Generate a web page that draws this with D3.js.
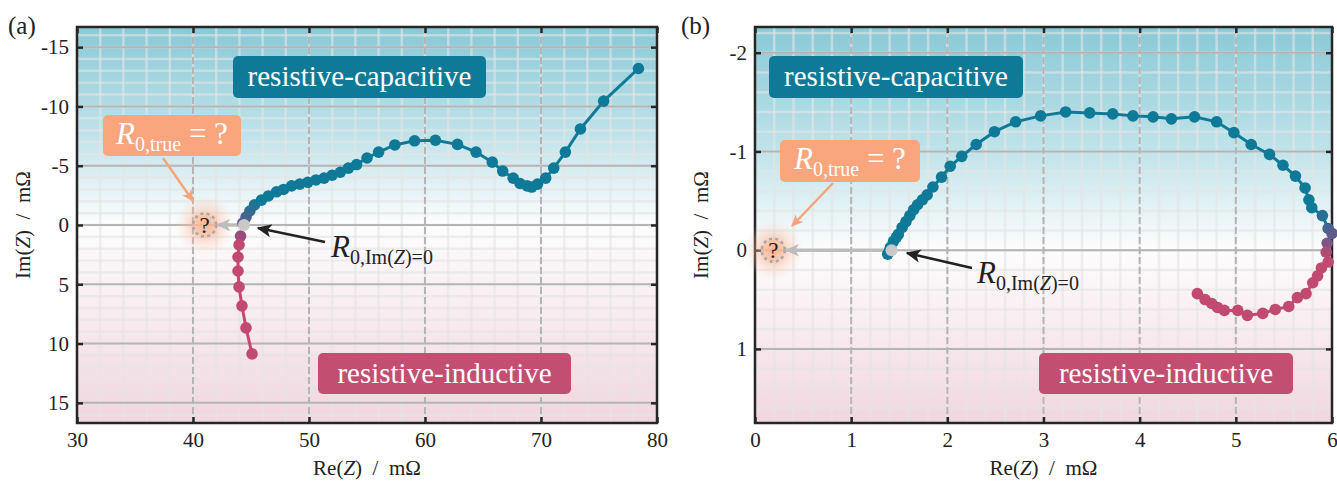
<!DOCTYPE html>
<html><head><meta charset="utf-8">
<script src="https://cdn.jsdelivr.net/npm/d3@7"></script>
<style>
html,body{margin:0;padding:0;background:#fff;}
svg text{font-family:"Liberation Serif","DejaVu Serif",serif;}
</style></head>
<body>
<svg id="chart" width="1337" height="482"></svg>
<script>
// ---------- DATA ----------
// Panel (a)
const aXTicks = [30, 40, 50, 60, 70, 80];
const aYTicks = [-15, -10, -5, 0, 5, 10, 15];
const aYTickLabels = ["-15", "-10", "-5", "0", "5", "10", "15"];
const aCapRe = [44.3, 44.57, 44.9, 45.3, 45.9, 46.5, 47.2, 47.8, 48.5, 49.2, 49.9, 50.6, 51.3, 52.0, 52.7, 53.4, 54.1, 55.0, 56.0, 57.4, 59.1, 60.9, 62.8, 64.4, 65.8, 66.7, 67.6, 68.2, 68.8, 69.2, 69.7, 70.4, 71.1, 72.1, 73.4, 75.4, 78.4];
const aCapIm = [-0.17, -0.67, -1.18, -1.7, -2.1, -2.45, -2.8, -3.0, -3.3, -3.45, -3.6, -3.8, -3.95, -4.2, -4.45, -4.8, -5.1, -5.65, -6.15, -6.75, -7.1, -7.15, -6.8, -6.15, -5.3, -4.55, -3.95, -3.5, -3.3, -3.2, -3.45, -3.95, -4.8, -6.15, -8.1, -10.45, -13.2];
const aIndRe = [44.1, 43.97, 43.88, 43.88, 43.97, 44.22, 44.57, 45.09];
const aIndIm = [0.93, 1.68, 2.7, 3.88, 5.22, 6.82, 8.68, 10.87];
const aR0Im0 = 44.4;   // R0 where Im(Z)=0
const aR0True = 41.0;  // unknown true R0 marker

// Panel (b)
const bXTicks = [0, 1, 2, 3, 4, 5, 6];
const bYTicks = [-2, -1, 0, 1];
const bYTickLabels = ["-2", "-1", "0", "1"];
const bCapRe = [1.38, 1.40, 1.41, 1.44, 1.47, 1.49, 1.53, 1.57, 1.61, 1.65, 1.69, 1.74, 1.79, 1.85, 1.94, 2.03, 2.15, 2.30, 2.49, 2.71, 2.97, 3.23, 3.48, 3.72, 3.93, 4.14, 4.33, 4.57, 4.80, 4.98, 5.16, 5.35, 5.49, 5.62, 5.72, 5.76, 5.79, 5.90, 5.96, 6.00];
const bCapIm = [0.04, 0.0, -0.03, -0.09, -0.13, -0.16, -0.23, -0.29, -0.35, -0.41, -0.46, -0.51, -0.56, -0.64, -0.74, -0.85, -0.95, -1.07, -1.20, -1.30, -1.36, -1.40, -1.39, -1.38, -1.36, -1.35, -1.33, -1.35, -1.30, -1.19, -1.07, -0.97, -0.86, -0.75, -0.63, -0.51, -0.43, -0.35, -0.22, -0.17];
const bIndRe = [5.95, 5.94, 5.96, 5.89, 5.85, 5.80, 5.73, 5.64, 5.55, 5.41, 5.28, 5.12, 5.02, 4.88, 4.81, 4.75, 4.68, 4.60];
const bIndIm = [-0.07, 0.02, 0.12, 0.18, 0.26, 0.33, 0.44, 0.48, 0.57, 0.60, 0.64, 0.66, 0.61, 0.61, 0.58, 0.54, 0.50, 0.44];
const bR0Im0 = 1.42;
const bR0True = 0.19;

const capLabel = "resistive-capacitive";
const indLabel = "resistive-inductive";

// ---------- STYLE ----------
const BLUE = "#0f7a98", RED = "#c24a70", PURPLE = "#5e5a8c";
const svg = d3.select("#chart");
const defs = svg.append("defs");

function marker(id, color, size) {
  defs.append("marker").attr("id", id).attr("viewBox", "0 0 10 10")
    .attr("refX", 9).attr("refY", 5).attr("markerWidth", size).attr("markerHeight", size)
    .attr("markerUnits", "userSpaceOnUse").attr("orient", "auto")
    .append("path").attr("d", "M0,0.5 L10,5 L0,9.5 L2.5,5 Z").attr("fill", color);
}
marker("arrBlack", "#222", 15);
marker("arrGray", "#bdbdbd", 14);
marker("arrOrange", "#f7a37c", 12);

const glow = defs.append("radialGradient").attr("id", "glow");
glow.append("stop").attr("offset", "0%").attr("stop-color", "#f79a6e").attr("stop-opacity", 0.85);
glow.append("stop").attr("offset", "45%").attr("stop-color", "#f9b08e").attr("stop-opacity", 0.45);
glow.append("stop").attr("offset", "100%").attr("stop-color", "#fcd2bd").attr("stop-opacity", 0);

const FS = 21; // tick/axis font size

function panel(cfg) {
  const x = d3.scaleLinear().domain(cfg.xDomain).range([cfg.left, cfg.right]);
  const y = d3.scaleLinear().domain(cfg.yDomain).range([cfg.top, cfg.bottom]);
  const g = svg.append("g");
  const gid = "bg" + cfg.id;
  const zf = (y(0) - cfg.top) / (cfg.bottom - cfg.top);
  const lg = defs.append("linearGradient").attr("id", gid).attr("x1", 0).attr("y1", 0).attr("x2", 0).attr("y2", 1);
  lg.append("stop").attr("offset", 0).attr("stop-color", "#89c9d6");
  lg.append("stop").attr("offset", zf * 0.55).attr("stop-color", "#c0e3ea");
  lg.append("stop").attr("offset", zf).attr("stop-color", "#fdfdfd");
  lg.append("stop").attr("offset", 1).attr("stop-color", "#f1d6df");
  g.append("rect").attr("x", cfg.left).attr("y", cfg.top)
    .attr("width", cfg.right - cfg.left).attr("height", cfg.bottom - cfg.top).attr("fill", `url(#${gid})`);

  // minor grid
  const xm = d3.range(cfg.xDomain[0], cfg.xDomain[1] + 1e-9, cfg.xMinor);
  const ym = d3.range(Math.ceil(cfg.yDomain[0] / cfg.yMinor) * cfg.yMinor, cfg.yDomain[1], cfg.yMinor);
  g.selectAll(".xm").data(xm).join("line").attr("x1", d => x(d)).attr("x2", d => x(d))
    .attr("y1", cfg.top).attr("y2", cfg.bottom).attr("stroke", "#e4e4e4").attr("stroke-opacity", 0.6).attr("stroke-width", 2.5);
  g.selectAll(".ym").data(ym).join("line").attr("y1", d => y(d)).attr("y2", d => y(d))
    .attr("x1", cfg.left).attr("x2", cfg.right).attr("stroke", "#e4e4e4").attr("stroke-opacity", 0.6).attr("stroke-width", 2.5);
  // major grid
  g.selectAll(".xM").data(cfg.xTicks).join("line").attr("x1", d => x(d)).attr("x2", d => x(d))
    .attr("y1", cfg.top).attr("y2", cfg.bottom).attr("stroke", "#b5b5b5").attr("stroke-width", 2)
    .attr("stroke-dasharray", "7,3");
  g.selectAll(".yM").data(cfg.yTicks).join("line").attr("y1", d => y(d)).attr("y2", d => y(d))
    .attr("x1", cfg.left).attr("x2", cfg.right).attr("stroke", "#b5b5b5").attr("stroke-width", 2);

  // axes with inward ticks
  const tk = 6;
  const axB = d3.axisBottom(x).tickValues(cfg.xTicks).tickSize(-tk).tickPadding(9).tickFormat(d3.format("d"));
  const axT = d3.axisTop(x).tickValues(cfg.xTicks).tickSize(-tk).tickFormat("");
  const axL = d3.axisLeft(y).tickValues(cfg.yTicks).tickSize(-tk).tickPadding(8).tickFormat((d, i) => cfg.yLabels[i]);
  const axR = d3.axisRight(y).tickValues(cfg.yTicks).tickSize(-tk).tickFormat("");
  [[axB, `translate(0,${cfg.bottom})`], [axT, `translate(0,${cfg.top})`], [axL, `translate(${cfg.left},0)`], [axR, `translate(${cfg.right},0)`]]
    .forEach(([ax, tr]) => {
      const a = g.append("g").attr("transform", tr).call(ax);
      a.select(".domain").remove();
      a.selectAll("line").attr("stroke", "#262626").attr("stroke-width", 2.5);
      a.selectAll("text").attr("font-size", FS).attr("fill", "#222")
        .style("font-family", '"Liberation Serif","DejaVu Serif",serif');
    });
  g.append("rect").attr("x", cfg.left).attr("y", cfg.top).attr("width", cfg.right - cfg.left)
    .attr("height", cfg.bottom - cfg.top).attr("fill", "none").attr("stroke", "#262626").attr("stroke-width", 2.5);

  // axis titles
  const xt = g.append("text").attr("x", (cfg.left + cfg.right) / 2).attr("y", cfg.bottom + 52)
    .attr("text-anchor", "middle").attr("font-size", FS).attr("fill", "#222");
  xt.append("tspan").text("Re(");
  xt.append("tspan").attr("font-style", "italic").text("Z");
  xt.append("tspan").text(")\u2002/\u2002mΩ");
  const yt = g.append("text").attr("transform", `translate(${cfg.left - 47},${(cfg.top + cfg.bottom) / 2}) rotate(-90)`)
    .attr("text-anchor", "middle").attr("font-size", FS).attr("fill", "#222");
  yt.append("tspan").text("Im(");
  yt.append("tspan").attr("font-style", "italic").text("Z");
  yt.append("tspan").text(")\u2002/\u2002mΩ");
  g.append("text").attr("x", cfg.tagX).attr("y", 34).attr("font-size", 25).attr("fill", "#222").text(cfg.tag);

  // region labels
  function box(x0, y0, x1, y1, color, label) {
    g.append("rect").attr("x", x0).attr("y", y0).attr("width", x1 - x0).attr("height", y1 - y0)
      .attr("rx", 5).attr("fill", color);
    g.append("text").attr("x", (x0 + x1) / 2).attr("y", (y0 + y1) / 2 + 9).attr("text-anchor", "middle")
      .attr("font-size", 29).attr("fill", "#fff").text(label);
  }
  box(cfg.capBox[0], cfg.capBox[1], cfg.capBox[2], cfg.capBox[3], "#0f7a98", capLabel);
  box(cfg.indBox[0], cfg.indBox[1], cfg.indBox[2], cfg.indBox[3], "#c24e72", indLabel);

  // R0,true box
  const ob = cfg.trueBox;
  g.append("rect").attr("x", ob[0]).attr("y", ob[1]).attr("width", ob[2] - ob[0]).attr("height", ob[3] - ob[1])
    .attr("rx", 5).attr("fill", "#f9a57e");
  const rt = g.append("text").attr("x", (ob[0] + ob[2]) / 2).attr("y", (ob[1] + ob[3]) / 2 + 8)
    .attr("text-anchor", "middle").attr("fill", "#fff").attr("font-size", 31);
  rt.append("tspan").attr("font-style", "italic").text("R");
  rt.append("tspan").attr("font-size", 20).attr("dy", 7).text("0,true");
  rt.append("tspan").attr("dy", -7).text(" = ?");
  g.append("line").attr("x1", cfg.orangeArrow[0]).attr("y1", cfg.orangeArrow[1])
    .attr("x2", cfg.orangeArrow[2]).attr("y2", cfg.orangeArrow[3])
    .attr("stroke", "#f7a37c").attr("stroke-width", 2.4).attr("marker-end", "url(#arrOrange)");

  // "?" marker
  const qx = x(cfg.r0True), qy = y(0);
  g.append("circle").attr("cx", qx).attr("cy", qy).attr("r", 30).attr("fill", "url(#glow)");
  g.append("circle").attr("cx", qx).attr("cy", qy).attr("r", 11.5).attr("fill", "#fbc3a6").attr("fill-opacity", 0.5)
    .attr("stroke", "#a9a9a9").attr("stroke-width", 2.6).attr("stroke-dasharray", "3,3.2");
  g.append("text").attr("x", qx).attr("y", qy + 8).attr("text-anchor", "middle").attr("font-size", 23)
    .attr("fill", "#222").text("?");
  // gray arrow from R0,Im=0 to ?
  g.append("line").attr("x1", x(cfg.r0Im0)).attr("y1", qy).attr("x2", qx + 13).attr("y2", qy)
    .attr("stroke", "#bdbdbd").attr("stroke-width", 3.4).attr("marker-end", "url(#arrGray)");

  // series
  const line = d3.line().x(d => x(d[0])).y(d => y(d[1]));
  const cap = d3.zip(cfg.capRe, cfg.capIm), ind = d3.zip(cfg.indRe, cfg.indIm);
  g.append("path").attr("d", line(ind)).attr("fill", "none").attr("stroke", RED).attr("stroke-width", 3);
  g.append("path").attr("d", line(cap)).attr("fill", "none").attr("stroke", BLUE).attr("stroke-width", 3);
  g.selectAll(".ind").data(ind).join("circle").attr("cx", d => x(d[0])).attr("cy", d => y(d[1])).attr("r", 5.8)
    .attr("fill", (d, i) => cfg.indColor(i, ind.length));
  g.selectAll(".cap").data(cap).join("circle").attr("cx", d => x(d[0])).attr("cy", d => y(d[1])).attr("r", 5.8)
    .attr("fill", (d, i) => cfg.capColor(i, cap.length));
  g.append("circle").attr("cx", x(cfg.r0Im0)).attr("cy", y(0)).attr("r", 6).attr("fill", "#c9c9c9");

  // R0,Im(Z)=0 annotation
  const ba = cfg.blackArrow;
  g.append("line").attr("x1", ba[0]).attr("y1", ba[1]).attr("x2", ba[2]).attr("y2", ba[3])
    .attr("stroke", "#222").attr("stroke-width", 2.5).attr("marker-end", "url(#arrBlack)");
  const rl = g.append("text").attr("x", cfg.r0Label[0]).attr("y", cfg.r0Label[1]).attr("font-size", 31).attr("fill", "#222");
  rl.append("tspan").attr("font-style", "italic").text("R");
  rl.append("tspan").attr("font-size", 20).attr("dy", 7).text("0,Im(");
  rl.append("tspan").attr("font-size", 20).attr("font-style", "italic").text("Z");
  rl.append("tspan").attr("font-size", 20).text(")=0");
}

const mixBR = d3.interpolateRgb(PURPLE, BLUE);
panel({
  id: "a", tag: "(a)", tagX: 8,
  xDomain: [30, 80], yDomain: [-16.7, 16.7], left: 77, right: 657, top: 27, bottom: 423,
  xTicks: aXTicks, yTicks: aYTicks, yLabels: aYTickLabels, xMinor: 2, yMinor: 1,
  capRe: aCapRe, capIm: aCapIm, indRe: aIndRe, indIm: aIndIm, r0Im0: aR0Im0, r0True: aR0True,
  capColor: (i) => i < 4 ? mixBR(i / 4) : BLUE,
  indColor: (i) => i === 0 ? "#9a4a7c" : RED,
  capBox: [233, 56, 486, 98], indBox: [318, 353, 571, 394],
  trueBox: [103, 115, 241, 156], orangeArrow: [163, 158, 193, 201],
  blackArrow: [325, 242, 258, 228], r0Label: [331, 257]
});
panel({
  id: "b", tag: "(b)", tagX: 681,
  xDomain: [0, 6], yDomain: [-2.26, 1.75], left: 755, right: 1332, top: 27, bottom: 423,
  xTicks: bXTicks, yTicks: bYTicks, yLabels: bYTickLabels, xMinor: 0.2, yMinor: 0.2,
  capRe: bCapRe, capIm: bCapIm, indRe: bIndRe, indIm: bIndIm, r0Im0: bR0Im0, r0True: bR0True,
  capColor: (i, n) => i >= n - 3 ? mixBR((n - 1 - i) / 3) : BLUE,
  indColor: (i) => i < 2 ? d3.interpolateRgb(PURPLE, RED)(i / 2 + 0.3) : RED,
  capBox: [769, 56, 1023, 98], indBox: [1039, 353, 1293, 394],
  trueBox: [780, 140, 920, 182], orangeArrow: [833, 183, 792, 226],
  blackArrow: [972, 268, 907, 253], r0Label: [977, 283]
});
</script>
</body></html>
